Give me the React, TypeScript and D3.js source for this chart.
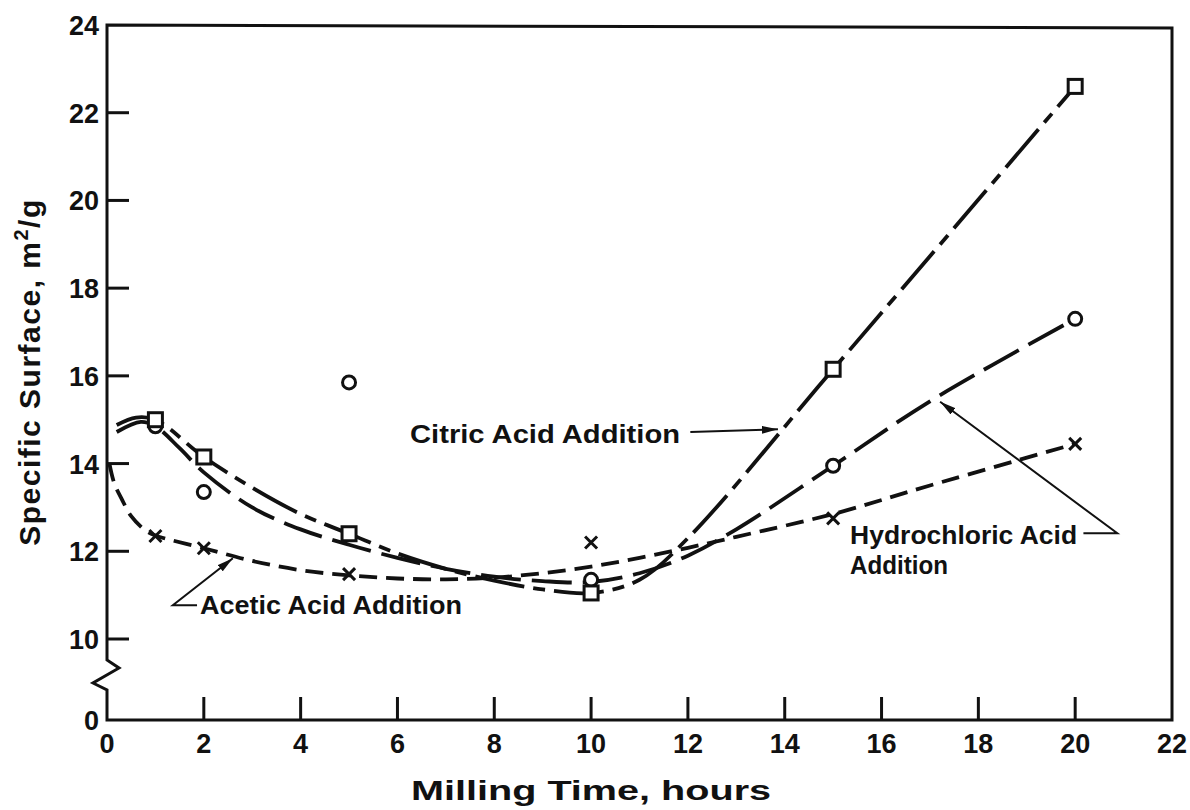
import React from "react";
import * as d3 from "d3";

// tick values
const xTicks = [2, 4, 6, 8, 10, 12, 14, 16, 18, 20];
const xTickLabels = [0, 2, 4, 6, 8, 10, 12, 14, 16, 18, 20, 22];
const yTicks = [10, 12, 14, 16, 18, 20, 22];
const yTickLabels = [10, 12, 14, 16, 18, 20, 22, 24];

// measured points (milling time h, specific surface m2/g)
const citricPoints: [number, number][] = [[1, 15.0], [2, 14.15], [5, 12.4], [10, 11.05], [15, 16.15], [20, 22.6]];
const hclPoints: [number, number][] = [[1, 14.85], [2, 13.35], [5, 15.85], [10, 11.35], [15, 13.95], [20, 17.3]];
const aceticPoints: [number, number][] = [[1, 12.35], [2, 12.07], [5, 11.48], [10, 12.2], [15, 12.75], [20, 14.45]];

// hand drawn fitted curves
const citricCurve: [number, number][] = [
  [0.2, 14.88], [0.6, 15.05], [1, 15.0], [2, 14.15], [3, 13.45], [4, 12.85], [5, 12.4],
  [6, 11.95], [7, 11.6], [8, 11.33], [9, 11.13], [10, 11.05], [11, 11.35], [12, 12.3], [15, 16.15], [20, 22.6],
];
const hclCurve: [number, number][] = [
  [0.2, 14.72], [0.7, 14.95], [1, 14.85], [1.5, 14.35], [2, 13.8], [3, 13.0], [4, 12.5], [5, 12.15],
  [6, 11.85], [7, 11.6], [8, 11.42], [9, 11.32], [10, 11.3], [11, 11.5], [12, 11.9], [13, 12.5], [15, 13.95], [17, 15.42], [20, 17.3],
];
const aceticCurve: [number, number][] = [
  [0.05, 14.0], [0.15, 13.55], [0.3, 13.2], [0.5, 12.8], [0.8, 12.47], [1, 12.36], [2, 12.07], [3, 11.78],
  [4, 11.57], [5, 11.45], [6, 11.38], [7, 11.36], [8, 11.4], [9, 11.5], [10, 11.65], [11, 11.85], [12, 12.08],
  [13, 12.33], [15, 12.85], [17, 13.5], [20, 14.45],
];

const FONT = "'Liberation Sans', Arial, sans-serif";

export default function App() {
  const width = 1190;
  const height = 810;
  const left = 107;
  const right = 1172;
  const top = 25;
  const bottom = 720;

  const x = d3.scaleLinear().domain([0, 22]).range([left, right]);
  const y = d3.scaleLinear().domain([10, 24]).range([639, top]);

  const line = d3
    .line<[number, number]>()
    .x((d) => x(d[0]))
    .y((d) => y(d[1]))
    .curve(d3.curveCatmullRom.alpha(0.5));

  const ink = "#111";
  const sw = 3.8;

  // axis with the break between 0 and 10
  const axisPath = `M${left},${top} L${left},660 L${left + 12},668 L${left - 14},683 L${left},690 L${left},${bottom} L${right},${bottom} L${right},${top + 3} Z`;

  return (
    <svg
      width={width}
      height={height}
      style={{ position: "absolute", left: 0, top: 0, background: "#fff" }}
      fontFamily={FONT}
    >
      <defs>
        <marker id="arrow" viewBox="0 0 16 8" refX="16" refY="4" markerWidth="16" markerHeight="8" markerUnits="userSpaceOnUse" orient="auto">
          <path d="M0,0 L16,4 L0,8 Z" fill={ink} />
        </marker>
      </defs>

      {/* frame */}
      <path d={axisPath} fill="none" stroke={ink} strokeWidth={3} strokeLinejoin="miter" />

      {/* ticks, pointing inward */}
      {yTicks.map((t) => (
        <line key={"yt" + t} x1={left} x2={left + 22} y1={y(t)} y2={y(t)} stroke={ink} strokeWidth={3} />
      ))}
      {xTicks.map((t) => (
        <line key={"xt" + t} x1={x(t)} x2={x(t)} y1={bottom} y2={bottom - 23} stroke={ink} strokeWidth={3} />
      ))}

      {/* tick labels */}
      {yTickLabels.map((t) => (
        <text key={"yl" + t} x={left - 8} y={y(t) + 10} textAnchor="end" fontSize={27} fontWeight={700} fill={ink}>
          {t}
        </text>
      ))}
      <text x={left - 8} y={bottom + 10} textAnchor="end" fontSize={27} fontWeight={700} fill={ink}>
        0
      </text>
      {xTickLabels.map((t) => (
        <text key={"xl" + t} x={x(t)} y={bottom + 33} textAnchor="middle" fontSize={27} fontWeight={700} fill={ink}>
          {t}
        </text>
      ))}

      {/* axis titles */}
      <text
        x={x(10)}
        y={800}
        textAnchor="middle"
        fontSize={28}
        fontWeight={700}
        fill={ink}
        textLength={360}
        lengthAdjust="spacingAndGlyphs"
      >
        Milling Time, hours
      </text>
      <text
        transform={`translate(40,${372}) rotate(-90)`}
        textAnchor="middle"
        fontSize={30}
        fontWeight={700}
        letterSpacing={1.5}
        fill={ink}
      >
        Specific Surface, m<tspan dy={-12} fontSize={20}>2</tspan>
        <tspan dy={12}>/g</tspan>
      </text>

      {/* fitted curves */}
      <path d={line(aceticCurve) || ""} fill="none" stroke={ink} strokeWidth={sw} strokeDasharray="18 9" />
      <path d={line(hclCurve) || ""} fill="none" stroke={ink} strokeWidth={sw} strokeDasharray="40 11" />
      <path d={line(citricCurve) || ""} fill="none" stroke={ink} strokeWidth={sw} strokeDasharray="50 9 12 9" />

      {/* markers */}
      {aceticPoints.map((d, i) => (
        <g key={"a" + i} stroke={ink} strokeWidth={3}>
          <line x1={x(d[0]) - 6} x2={x(d[0]) + 6} y1={y(d[1]) - 6} y2={y(d[1]) + 6} />
          <line x1={x(d[0]) - 6} x2={x(d[0]) + 6} y1={y(d[1]) + 6} y2={y(d[1]) - 6} />
        </g>
      ))}
      {hclPoints.map((d, i) => (
        <circle key={"h" + i} cx={x(d[0])} cy={y(d[1])} r={6.5} fill="#fff" stroke={ink} strokeWidth={3} />
      ))}
      {citricPoints.map((d, i) => (
        <rect key={"c" + i} x={x(d[0]) - 7} y={y(d[1]) - 7} width={14} height={14} fill="#fff" stroke={ink} strokeWidth={3} />
      ))}

      {/* annotations */}
      <text x={x(6.26)} y={y(14.68) + 9} fontSize={25} fontWeight={700} fill={ink} textLength={270} lengthAdjust="spacingAndGlyphs">
        Citric Acid Addition
      </text>
      <line x1={x(12.05)} y1={y(14.72)} x2={x(13.86)} y2={y(14.78)} stroke={ink} strokeWidth={2} markerEnd="url(#arrow)" />

      <text x={x(1.92)} y={y(10.77) + 9} fontSize={25} fontWeight={700} fill={ink} textLength={262} lengthAdjust="spacingAndGlyphs">
        Acetic Acid Addition
      </text>
      <polyline
        points={`${x(1.86)},${y(10.77)} ${x(1.36)},${y(10.77)} ${x(2.6)},${y(11.84)}`}
        fill="none"
        stroke={ink}
        strokeWidth={2}
        markerEnd="url(#arrow)"
      />

      <text x={x(15.35)} y={y(12.36) + 9} fontSize={25} fontWeight={700} fill={ink} textLength={227} lengthAdjust="spacingAndGlyphs">
        Hydrochloric Acid
      </text>
      <text x={x(15.35)} y={y(11.68) + 9} fontSize={25} fontWeight={700} fill={ink} textLength={98} lengthAdjust="spacingAndGlyphs">
        Addition
      </text>
      <polyline
        points={`${x(20.17)},${y(12.41)} ${x(20.87)},${y(12.41)} ${x(17.21)},${y(15.41)}`}
        fill="none"
        stroke={ink}
        strokeWidth={2}
        markerEnd="url(#arrow)"
      />
    </svg>
  );
}
